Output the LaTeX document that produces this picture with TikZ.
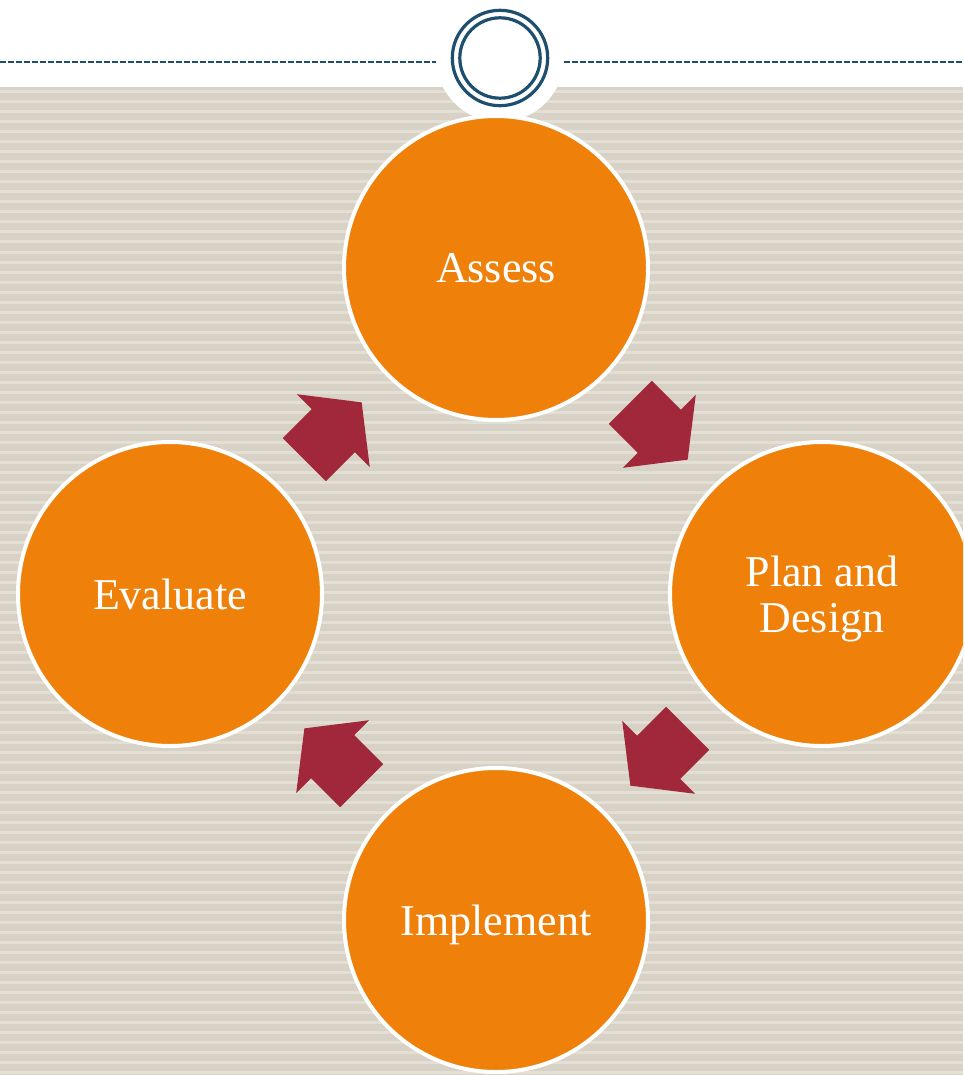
\documentclass[tikz,border=0pt]{standalone}
\usepackage{fontspec}
\setmainfont{Liberation Serif}
\usetikzlibrary{calc}
\definecolor{phaseorange}{HTML}{EF810A}
\definecolor{arrowred}{HTML}{A1283A}
\definecolor{slateblue}{HTML}{1E4F6F}
\definecolor{paper}{HTML}{D7D2C5}
\definecolor{paperline}{HTML}{E3DFD5}
\def\cyclearrow(#1)(#2){\fill[arrowred] let \p1=(#1), \p2=(#2), \p3=($(#1)!0.5!(#2)$), \n1={atan2(\y2-\y1,\x2-\x1)} in [shift={(\p3)}, rotate=\n1] (-40.5,-30.5) -- (0.5,-30.5) -- (0.5,-51.5) -- (40.5,0) -- (0.5,51.5) -- (0.5,30.5) -- (-40.5,30.5) -- cycle;}

\begin{document}
\begin{tikzpicture}[x=1pt, y=-1pt,
		phase/.style={circle, fill=phaseorange, draw=white, line width=4pt, minimum size=304pt, inner sep=0pt, text=white, align=center, text depth=0pt, font=\fontsize{44}{46}\selectfont},
		ring/.style={draw=slateblue, line width=3.2pt},
		rule/.style={draw=slateblue, line width=2pt, dash pattern=on 6pt off 2pt}]
		%%%%% START %%%%%
		
		\useasboundingbox (0, 0) rectangle (963, 1075);
		\clip (0, 0) rectangle (963, 1075);
		
		% striped paper
		\fill[paper] (0, 87) rectangle (963, 1075);
		\foreach \y in {92, 102, ..., 1072}
			\draw[paperline, line width=3pt] (0, \y) -- (963, \y);
		
		% header rule and emblem
		\node[circle, fill=white, minimum size=128pt, inner sep=0pt] (emblem) at (500, 58) {};
		\coordinate (ruleL) at (0, 62);
		\coordinate (ruleR) at (963, 62);
		\draw[rule] (ruleL) -- (ruleL -| emblem.west);
		\draw[rule] (ruleR -| emblem.east) -- (ruleR);
		\draw[ring] (emblem.center) circle (47.7pt);
		\draw[ring] (emblem.center) circle (40.2pt);
		
		% phases
		\node[phase] (assess) at (496, 268) {Assess};
		\node[phase] (plan) at (822, 594) {Plan and\\Design};
		\node[phase] (implement) at (496, 920) {Implement};
		\node[phase] (evaluate) at (170, 594) {Evaluate};
		
		% cycle arrows
		\cyclearrow(assess)(plan)
		\cyclearrow(plan)(implement)
		\cyclearrow(implement)(evaluate)
		\cyclearrow(evaluate)(assess)
		
		%%%%% END %%%%%
\end{tikzpicture}
\end{document}
